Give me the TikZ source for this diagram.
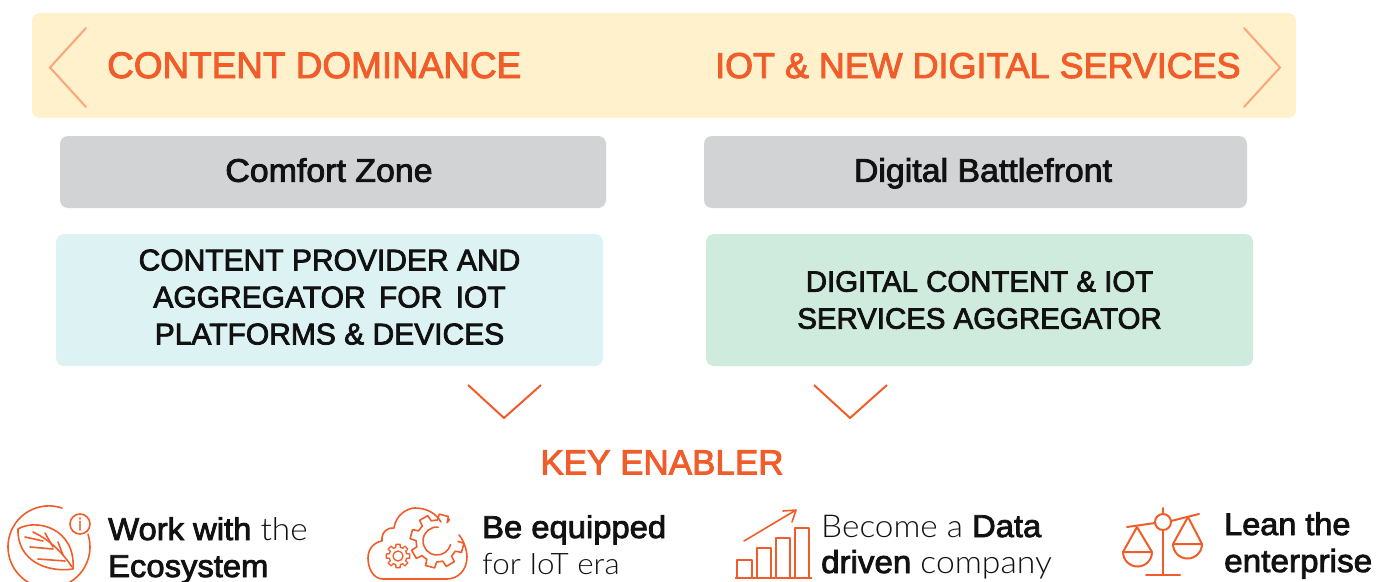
\documentclass[tikz,border=0pt]{standalone}
\usepackage{fontspec}
\setmainfont{Lato}
\newfontfamily\med{Liberation Sans}[FakeBold=2.6]
\newfontfamily\medw{Liberation Sans}[FakeBold=2.6,FakeStretch=1.04]
\newfontfamily\lit{Lato Light}[FakeStretch=1.06]
\definecolor{orng}{HTML}{F15D2A}
\definecolor{lorng}{HTML}{FBA67A}
\definecolor{bnr}{HTML}{FFF1CC}
\definecolor{gry}{HTML}{D1D3D4}
\definecolor{blu}{HTML}{DDF2F3}
\definecolor{grn}{HTML}{CEEBDD}
\definecolor{ink}{HTML}{111111}
\tikzset{
 panel/.style={rectangle,rounded corners=8pt,inner sep=0pt,outer sep=0pt,text=ink,align=center,font=\fontsize{30}{37}\selectfont\med},
 zone/.style={panel,fill=gry,minimum height=72pt,text height=28pt,text depth=8.5pt,font=\fontsize{32.6}{37}\selectfont\medw},
 head/.style={anchor=base west,inner sep=0pt,text=orng,font=\fontsize{36.9}{40}\selectfont\med},
 lab/.style={anchor=base west,inner sep=0pt,text=ink,font=\fontsize{31.5}{36}\selectfont\medw},
 lablit/.style={lab,font=\fontsize{29.6}{36}\selectfont\lit},
 ico/.style={draw=orng,line width=1.6pt,line cap=round,line join=round},
 chev/.style={draw=orng,line width=2pt},
 lchev/.style={draw=lorng,line width=2pt,line cap=round}
}
\begin{document}
\begin{tikzpicture}[x=1pt,y=-1pt]
\useasboundingbox (0,0) rectangle (1378,581);
\node[panel,fill=bnr,minimum width=1264pt,minimum height=105pt] (banner) at (664,65.5) {};
\node[head] (h1) at (107,78) {CONTENT DOMINANCE};
\node[head,font=\fontsize{35.9}{40}\selectfont\med] (h2) at (715,78) {IOT \& NEW DIGITAL SERVICES};
\draw[lchev] (86,28) -- (50,67.5) -- (86,107);
\draw[lchev] (1244,28) -- (1280,67.5) -- (1244,107);
\node[zone,minimum width=546pt] (cz) at (333,172) {\hspace*{-8pt}Comfort Zone};
\node[zone,minimum width=543pt] (db) at (975.5,172) {\hspace*{15pt}Digital Battlefront};
\node[panel,fill=blu,minimum width=547pt,minimum height=132pt] (cp) at (329.5,300) {\raisebox{3pt}{\begin{tabular}{@{}c@{}}CONTENT PROVIDER AND\\AGGREGATOR\, FOR\, IOT\\PLATFORMS \& DEVICES\end{tabular}}};
\node[panel,fill=grn,minimum width=547pt,minimum height=132pt,font=\fontsize{29.4}{37}\selectfont\med] (dc) at (979.5,300) {DIGITAL CONTENT \& IOT\\SERVICES AGGREGATOR};
\draw[chev] (468,385) -- (504,418) -- (541,385);
\draw[chev] (814,385) -- (850,418) -- (887,385);
\node[head,anchor=base,font=\fontsize{35}{40}\selectfont\med] (ke) at (662,474.5) {KEY ENABLER};
% leaf icon
\draw[ico] (62,508) arc (-71.5:-378:41) ;
\draw[ico] (18,529) .. controls (36,518) and (76,528) .. (73,569) .. controls (46,573) and (17,560) .. (18,529) -- cycle;
\draw[ico] (33,532) .. controls (50,540) and (62,552) .. (72,567);
\draw[ico] (25,537) -- (43,541) (30,547) -- (53,549) (38,559) -- (65,561) (45,533) -- (53,547) (58,542) -- (63,555);
\node[circle,draw=orng,line width=1.6pt,minimum size=20pt,inner sep=0pt,text=orng,font=\fontsize{17}{17}\selectfont\med] (info) at (80,524) {i};
\node[lab] (t1a) at (108,540) {Work with {\lit the}};
\node[lab] (t1b) at (108,577) {Ecosystem};
% cloud icon
\draw[ico] (383,579) .. controls (373,579) and (368,568) .. (368,558) .. controls (368,548) and (375,542) .. (382,541) .. controls (381,532) and (388,527) .. (394,528) .. controls (396,514) and (408,508) .. (415,508) .. controls (426,508) and (436,513) .. (441,522)
 (447,579) .. controls (458,579) and (467,570) .. (467,557) .. controls (467,548) and (462,538) .. (459,535);
\draw[ico] (383,579) -- (447,579);
\begin{scope}[shift={(437,541)}]
 \draw[ico] (-60:25) \foreach \a in {-75,-120,-165,-210,-255,-300,-345} { -- (\a+14:21) -- (\a+10:27) -- (\a-10:27) -- (\a-14:21) };
 \draw[ico] (-85:14) arc (-85:-345:14);
\end{scope}
\begin{scope}[shift={(398,556)}]
 \draw[ico,line width=1.3pt] (14:9) \foreach \a in {0,-45,-90,-135,-180,-225,-270,-315} { -- (\a+14:9) -- (\a+10:12) -- (\a-10:12) -- (\a-14:9) } -- cycle;
 \draw[ico,line width=1.3pt] (0,0) circle (5);
\end{scope}
\node[lab] (t2a) at (482,538) {Be equipped};
\node[lablit] (t2b) at (482,574) {for IoT era};
% chart icon
\draw[ico,line width=2pt,line cap=butt] (735,578) -- (812,578);
\draw[ico,line width=2pt,line cap=butt] (737,578) |- (752,560) -- (752,578);
\draw[ico,line width=2pt,line cap=butt] (757,578) |- (771,548) -- (771,578);
\draw[ico,line width=2pt,line cap=butt] (776,578) |- (790,538) -- (790,578);
\draw[ico,line width=2pt,line cap=butt] (795,578) |- (809,528) -- (809,578);
\draw[ico] (744,541) -- (796,510) (783,511) -- (796,510) -- (792,522);
\node[lab,font=\fontsize{31.5}{36}\selectfont\lit] (t3a) at (821,537) {Become a {\medw Data}};
\node[lab,font=\fontsize{31.8}{36}\selectfont\lit] (t3b) at (821,573) {{\medw driven} company};
% scales icon
\draw[ico,line width=2pt] (1127,527) -- (1155,523) (1171,521) -- (1199,514);
\draw[ico,line width=2pt] (1163,522) circle (8);
\draw[ico,line width=2pt] (1163,508) -- (1163,514) (1163,530) -- (1163,575) (1146,575) -- (1180,575);
\draw[ico,line width=2pt] (1123,552) -- (1137,527) -- (1152,552) -- cycle (1123,552) arc (180:0:14.5);
\draw[ico,line width=2pt] (1173,544) -- (1188,517) -- (1202,544) -- cycle (1173,544) arc (180:0:14.5);
\node[lab,font=\fontsize{31.2}{36}\selectfont\medw] (t4a) at (1224,535) {Lean the};
\node[lab,font=\fontsize{32}{36}\selectfont\medw] (t4b) at (1224,572) {enterprise};
\end{tikzpicture}
\end{document}
